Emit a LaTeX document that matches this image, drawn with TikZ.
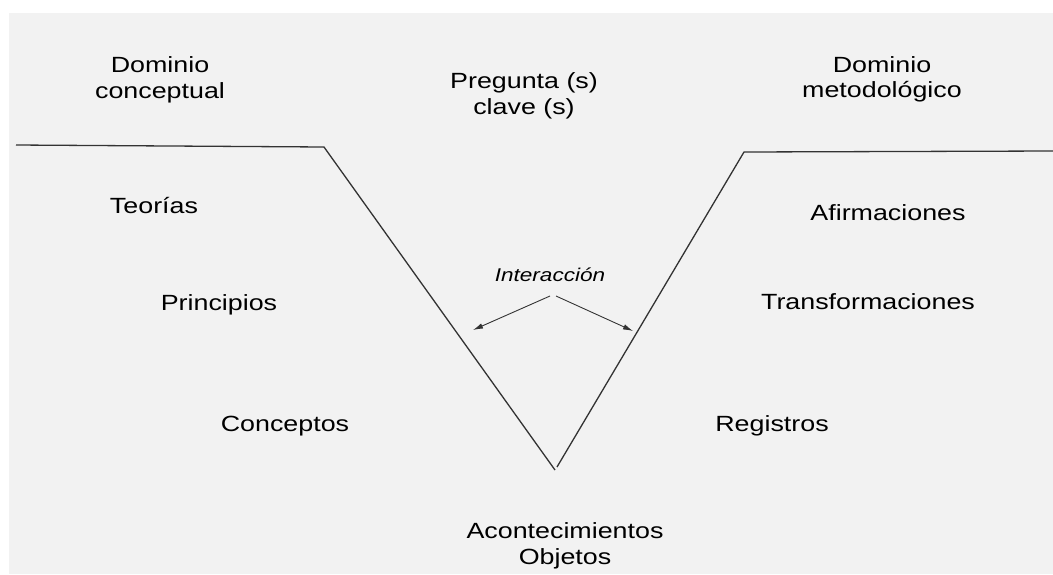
\documentclass[tikz,border=0pt]{standalone}
\usepackage{fontspec}
\setmainfont{Liberation Sans}[FakeStretch=1.22]
\usetikzlibrary{arrows.meta}
\definecolor{bggrey}{HTML}{F2F2F2}
\definecolor{linegrey}{HTML}{333333}
\tikzset{
  lbl/.style={anchor=base, inner sep=0pt, align=center, font=\fontsize{22}{25.5}\selectfont},
  small/.style={anchor=base, inner sep=0pt, font=\fontsize{18.5}{22}\selectfont\itshape},
  vline/.style={draw=linegrey, line width=1.3pt, line join=miter},
  arr/.style={draw=linegrey, line width=0.9pt, -{Latex[length=10pt,width=5.5pt]}}
}
\begin{document}
\begin{tikzpicture}[x=1pt,y=-1pt]
\useasboundingbox (0,0) rectangle (1053,574);
\fill[bggrey] (9,13) rectangle (1053,574);
% coordinates of the V
\coordinate (l0) at (16,145);
\coordinate (l1) at (324,147);
\coordinate (l2) at (555,470);
\coordinate (r0) at (557,467);
\coordinate (r1) at (744,152);
\coordinate (r2) at (1053,151);
\draw[vline] (l0) -- (l1) -- (l2);
\draw[vline] (r0) -- (r1) -- (r2);
% texts (base = baseline of the last line)
\node[lbl] (dc) at (160,98) {Dominio\\conceptual};
\node[lbl] (pc) at (524,114) {Pregunta (s)\\clave (s)};
\node[lbl] (dm) at (882,97.5) {Dominio\\metodológico};
\node[lbl] (teo) at (154,213) {Teorías};
\node[lbl] (pri) at (219,310) {Principios};
\node[lbl] (con) at (285,431) {Conceptos};
\node[lbl] (afi) at (888,220) {Afirmaciones};
\node[lbl] (tra) at (868,309) {Transformaciones};
\node[lbl] (reg) at (772,431) {Registros};
\node[lbl] (aco) at (565,564) {Acontecimientos\\Objetos};
\node[small] (int) at (550,281.5) {Interacción};
% interaction arrows
\coordinate (as) at (550,296);
\coordinate (bs) at (556,296);
\coordinate (at) at (473,330);
\coordinate (bt) at (633,331);
\draw[arr] (as) -- (at);
\draw[arr] (bs) -- (bt);
\end{tikzpicture}
\end{document}
